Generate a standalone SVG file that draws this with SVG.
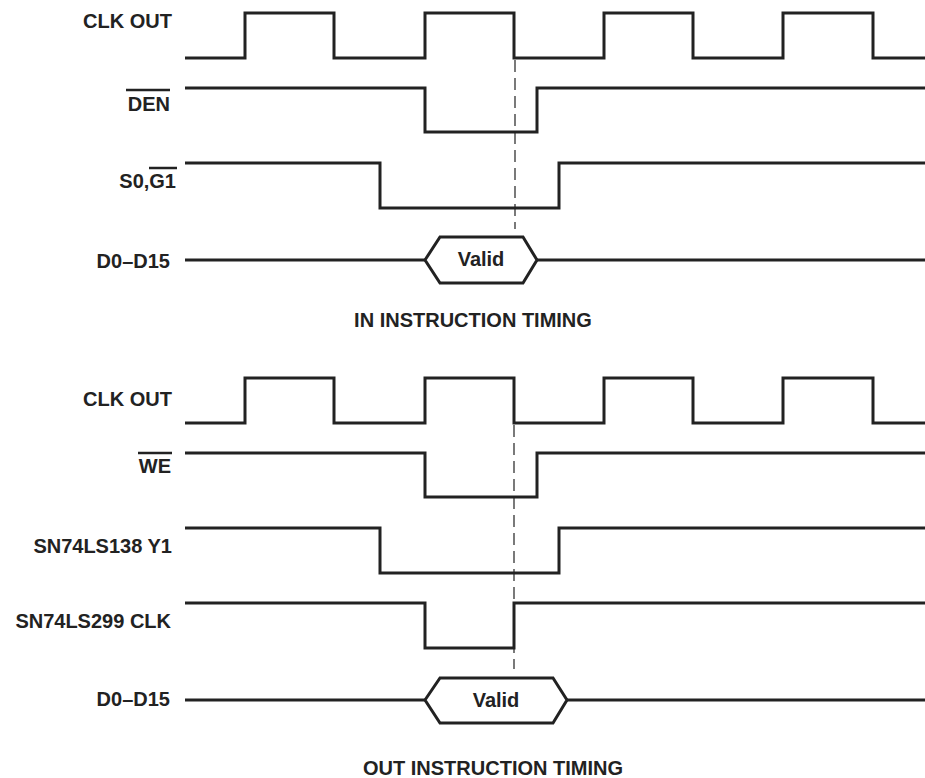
<svg xmlns="http://www.w3.org/2000/svg" width="925" height="778" viewBox="0 0 925 778">
<style>
.lbl{font-family:"Liberation Sans",Arial,sans-serif;font-weight:bold;font-size:20px;fill:#222;}
.end{text-anchor:end;}
.mid{text-anchor:middle;}
.wave{fill:none;stroke:#222;stroke-width:3;stroke-linejoin:miter;}
.ov{stroke:#222;stroke-width:2.5;}
.dash{stroke:#222;stroke-width:1.2;stroke-dasharray:12,6;fill:none;}
</style>
<rect width="925" height="778" fill="#fff"/>
<g id="in-timing">
  <g id="in-clk">
    <text class="lbl end" x="172" y="28">CLK OUT</text>
    <path class="wave" d="M185,58 H245 V13 H334 V58 H425 V13 H514 V58 H604 V13 H693 V58 H783 V13 H873 V58 H925"/>
  </g>
  <g id="in-den">
    <text class="lbl end" x="170" y="111">DEN</text>
    <line class="ov" x1="126" y1="90" x2="170" y2="90"/>
    <path class="wave" d="M185,88 H425 V132 H537 V88 H925"/>
  </g>
  <g id="in-s0g1">
    <text class="lbl end" x="176" y="188">S0,G1</text>
    <line class="ov" x1="149" y1="168" x2="177" y2="168"/>
    <path class="wave" d="M185,163 H380 V208 H559 V163 H925"/>
  </g>
  <g id="in-data">
    <text class="lbl end" x="170" y="268">D0–D15</text>
    <path class="wave" d="M185,260 H425 M537,260 H925"/>
    <polygon class="wave" points="425,260 440,237 523,237 537,260 523,283 440,283"/>
    <text class="lbl mid" x="481" y="266">Valid</text>
  </g>
  <g id="in-title">
    <text class="lbl mid" x="473" y="327">IN INSTRUCTION TIMING</text>
  </g>
</g>
<g id="out-timing">
  <g id="out-clk">
    <text class="lbl end" x="172" y="406">CLK OUT</text>
    <path class="wave" d="M185,423 H245 V378 H334 V423 H425 V378 H514 V423 H604 V378 H693 V423 H783 V378 H873 V423 H925"/>
  </g>
  <g id="out-we">
    <text class="lbl end" x="171" y="473">WE</text>
    <line class="ov" x1="138" y1="453" x2="172" y2="453"/>
    <path class="wave" d="M185,453 H425 V497 H537 V453 H925"/>
  </g>
  <g id="out-y1">
    <text class="lbl end" x="172" y="553">SN74LS138 Y1</text>
    <path class="wave" d="M185,528 H380 V573 H559 V528 H925"/>
  </g>
  <g id="out-299clk">
    <text class="lbl end" x="171" y="628">SN74LS299 CLK</text>
    <path class="wave" d="M185,603 H425 V648 H514 V603 H925"/>
  </g>
  <g id="out-data">
    <text class="lbl end" x="170" y="706">D0–D15</text>
    <path class="wave" d="M185,700 H425 M567,700 H925"/>
    <polygon class="wave" points="425,700 440,678 553,678 567,700 553,723 440,723"/>
    <text class="lbl mid" x="496" y="707">Valid</text>
  </g>
  <g id="out-title">
    <text class="lbl mid" x="493" y="775">OUT INSTRUCTION TIMING</text>
  </g>
</g>
<g id="connectors">
  <line class="dash" x1="515" y1="60" x2="515" y2="229"/>
  <line class="dash" x1="514" y1="425" x2="514" y2="669"/>
</g>
</svg>
